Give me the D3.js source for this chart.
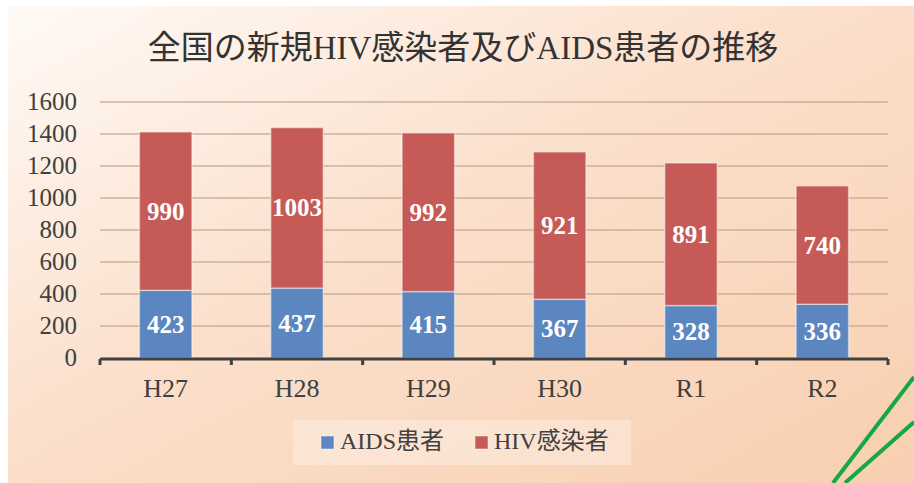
<!DOCTYPE html>
<html>
<head>
<meta charset="utf-8">
<script src="https://cdn.jsdelivr.net/npm/d3@7"></script>
<style>
  body { margin: 0; background: #fff; }
  svg { display: block; }
</style>
</head>
<body>
<div class="chart"></div>
<script>
var categories = ["H27", "H28", "H29", "H30", "R1", "R2"];
var aids = [423, 437, 415, 367, 328, 336];
var hiv = [990, 1003, 992, 921, 891, 740];
var yTicks = [0, 200, 400, 600, 800, 1000, 1200, 1400, 1600];
var seriesNames = ["AIDS患者", "HIV感染者"];
var colors = ["#5b86bf", "#c55a56"];

var W = 914, H = 483;
var serif = "'Liberation Serif', 'DejaVu Serif', 'Noto Sans CJK JP', serif";

var svg = d3.select('.chart').append('svg')
    .attr('width', W).attr('height', H);

// background gradient
var defs = svg.append('defs');
var grad = defs.append('linearGradient').attr('id', 'bg')
    .attr('x1', '0%').attr('y1', '0%').attr('x2', '100%').attr('y2', '100%');
grad.append('stop').attr('offset', '0%').attr('stop-color', '#fffaf6');
grad.append('stop').attr('offset', '45%').attr('stop-color', '#fbe0cc');
grad.append('stop').attr('offset', '100%').attr('stop-color', '#f8cfb0');

svg.append('rect').attr('x', 8).attr('y', 6).attr('width', W - 8).attr('height', H - 6)
    .attr('fill', 'url(#bg)');

svg.append('text')
    .attr('x', 463).attr('y', 59)
    .attr('text-anchor', 'middle')
    .attr('font-family', serif)
    .attr('font-size', 33)
    .attr('fill', '#333')
    .text('全国の新規HIV感染者及びAIDS患者の推移');

var x = d3.scaleBand().domain(categories).range([100, 888]).paddingInner(0.6).paddingOuter(0.3);
var y = d3.scaleLinear().domain([0, 1600]).range([358, 102]);

// gridlines
svg.append('g').selectAll('line').data(yTicks.slice(1)).enter().append('line')
    .attr('x1', 100).attr('x2', 888)
    .attr('y1', function (d) { return y(d); })
    .attr('y2', function (d) { return y(d); })
    .attr('stroke', '#c4a48c').attr('stroke-opacity', 0.8).attr('stroke-width', 1.3);

// y labels
svg.append('g').selectAll('text').data(yTicks).enter().append('text')
    .attr('x', 77)
    .attr('y', function (d) { return y(d) + 8; })
    .attr('text-anchor', 'end')
    .attr('font-family', serif).attr('font-size', 25).attr('fill', '#404040')
    .text(function (d) { return d; });

var stack = d3.stack().keys([0, 1]).value(function (d, k) { return d[k]; });
var rows = categories.map(function (c, i) { return [aids[i], hiv[i]]; });
var layers = stack(rows);

layers.forEach(function (layer, k) {
    var g = svg.append('g');
    g.selectAll('rect').data(layer).enter().append('rect')
        .attr('x', function (d, i) { return x(categories[i]); })
        .attr('width', x.bandwidth())
        .attr('y', function (d) { return y(d[1]); })
        .attr('height', function (d) { return y(d[0]) - y(d[1]); })
        .attr('fill', colors[k])
        .attr('stroke', 'rgba(255,255,255,0.45)').attr('stroke-width', 1.5);
    g.selectAll('text').data(layer).enter().append('text')
        .attr('x', function (d, i) { return x(categories[i]) + x.bandwidth() / 2; })
        .attr('y', function (d) { return (y(d[0]) + y(d[1])) / 2 + 8.5; })
        .attr('text-anchor', 'middle')
        .attr('font-family', serif).attr('font-size', 25).attr('font-weight', 'bold')
        .attr('fill', '#fff')
        .text(function (d) { return d[1] - d[0]; });
});

// x axis
var step = x.step();
svg.append('line').attr('x1', 100).attr('x2', 888).attr('y1', 359).attr('y2', 359)
    .attr('stroke', '#404040').attr('stroke-width', 3);
svg.append('g').selectAll('line').data(d3.range(categories.length + 1)).enter().append('line')
    .attr('x1', function (i) { return 100 + i * step; })
    .attr('x2', function (i) { return 100 + i * step; })
    .attr('y1', 359).attr('y2', 365)
    .attr('stroke', '#404040').attr('stroke-width', 3);
svg.append('g').selectAll('text').data(categories).enter().append('text')
    .attr('x', function (d) { return x(d) + x.bandwidth() / 2; })
    .attr('y', 397)
    .attr('text-anchor', 'middle')
    .attr('font-family', serif).attr('font-size', 26).attr('fill', '#404040')
    .text(function (d) { return d; });

// legend
var lg = svg.append('g');
lg.append('rect').attr('x', 293).attr('y', 420).attr('width', 338).attr('height', 45)
    .attr('fill', 'rgba(255,255,255,0.3)');
var lx = [321, 475];
seriesNames.forEach(function (n, k) {
    lg.append('rect').attr('x', lx[k]).attr('y', 436).attr('width', 13).attr('height', 13)
        .attr('fill', colors[k]).attr('stroke', 'rgba(255,255,255,0.5)');
    lg.append('text').attr('x', lx[k] + 19).attr('y', 449)
        .attr('font-family', serif).attr('font-size', 24).attr('fill', '#404040')
        .text(n);
});

// decorative green lines
svg.append('line').attr('x1', 914).attr('y1', 377).attr('x2', 833).attr('y2', 483)
    .attr('stroke', '#16a843').attr('stroke-width', 4);
svg.append('line').attr('x1', 914).attr('y1', 422).attr('x2', 845).attr('y2', 483)
    .attr('stroke', '#16a843').attr('stroke-width', 4);
</script>
</body>
</html>
